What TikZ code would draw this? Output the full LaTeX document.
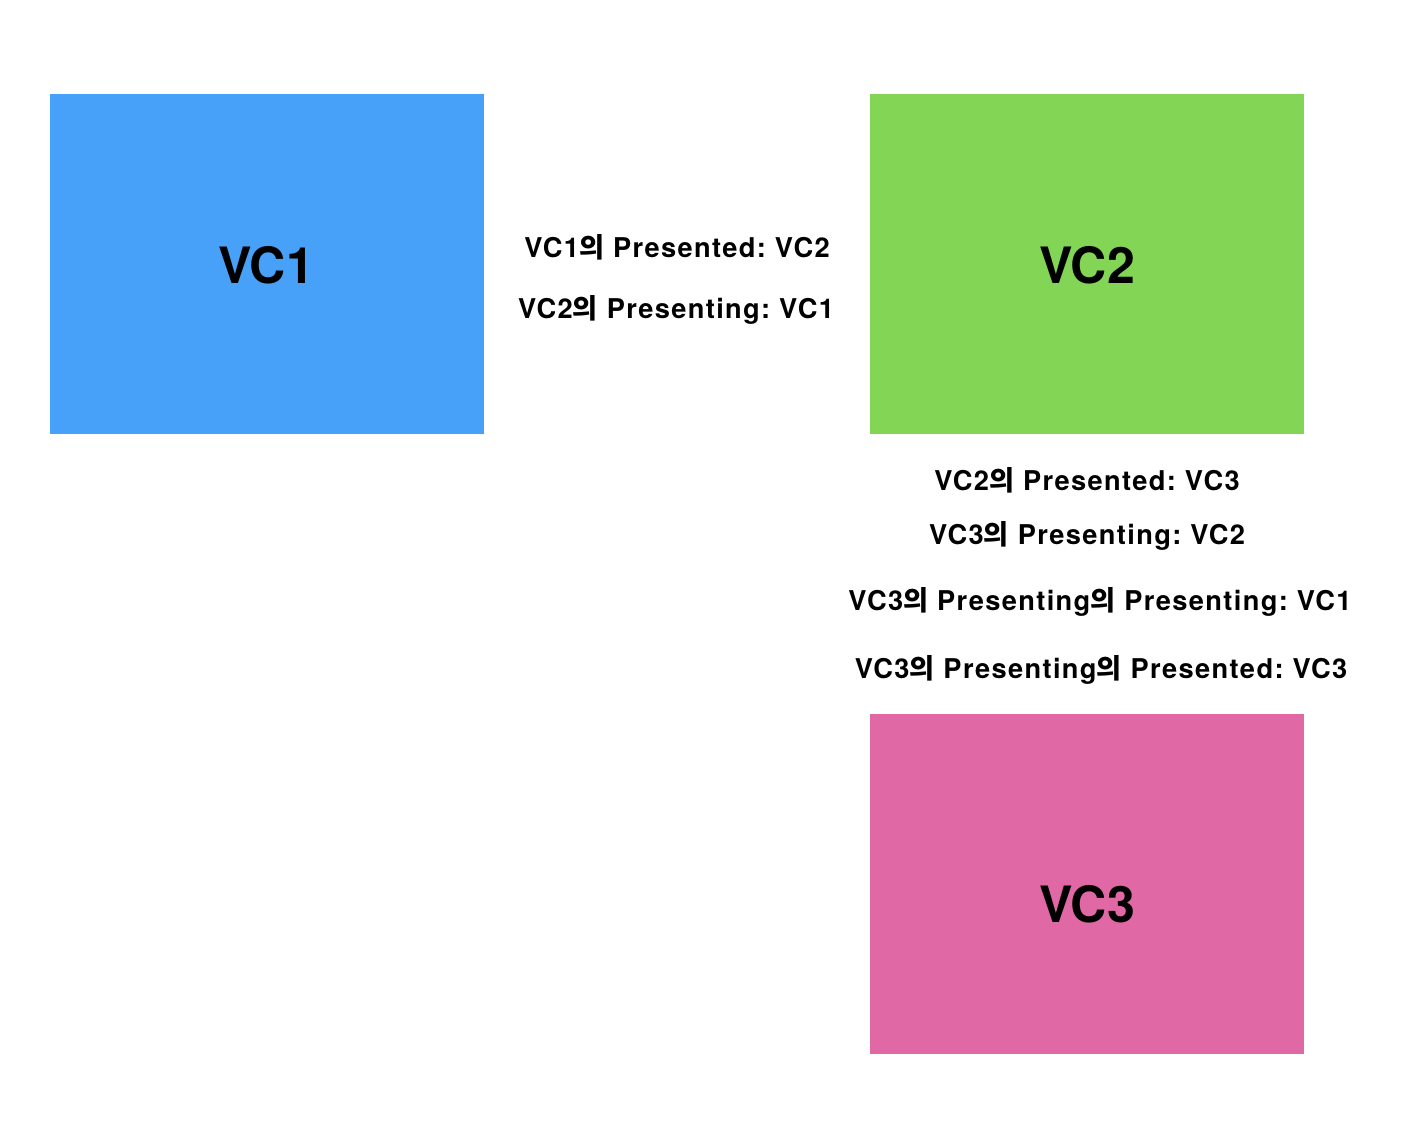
\documentclass[tikz,border=0pt]{standalone}
\usepackage{fontspec}
\setmainfont{TeX Gyre Heros}
\newfontfamily\notefont{TeX Gyre Heros}[LetterSpace=5]
\newfontfamily\kr{Noto Sans CJK KR}
\newcommand{\ui}{{\kr 의}}
\definecolor{vcblue}{RGB}{71,161,248}
\definecolor{vcgreen}{RGB}{131,213,85}
\definecolor{vcpink}{RGB}{224,104,164}
\frenchspacing
\tikzset{
	vcbox/.style={minimum width=8.68cm, minimum height=6.8cm, inner sep=0pt},
	vcname/.style={inner sep=0pt, font=\fontsize{28.5}{34}\selectfont\bfseries},
	note/.style={inner sep=0pt, font=\notefont\fontsize{15.5}{18}\selectfont\bfseries}
}
\begin{document}
\begin{tikzpicture}[x=0.02cm,y=-0.02cm]
	\useasboundingbox[fill=white] (0,0) rectangle (1402,1146);
	\node[vcbox, fill=vcblue] (vc1) at (267,264) {};
	\node[vcbox, fill=vcgreen] (vc2) at (1087,264) {};
	\node[vcbox, fill=vcpink] (vc3) at (1087,884) {};
	\node[vcname] (vc1name) at (266,265) {VC1};
	\node[vcname] (vc2name) at (1087,265) {VC2};
	\node[vcname] (vc3name) at (1087,904) {VC3};
	\node[note] (onepresented) at (677,247) {VC1\ui{} Presented: VC2};
	\node[note] (twopresenting) at (676,310) {VC2\ui{} Presenting: VC1};
	\node[note] (twopresented) at (1087,480) {VC2\ui{} Presented: VC3};
	\node[note] (threepresenting) at (1087,536) {VC3\ui{} Presenting: VC2};
	\node[note] (threeback) at (1100,602) {VC3\ui{} Presenting\ui{} Presenting: VC1};
	\node[note] (threeloop) at (1101,670) {VC3\ui{} Presenting\ui{} Presented: VC3};
\end{tikzpicture}
\end{document}
